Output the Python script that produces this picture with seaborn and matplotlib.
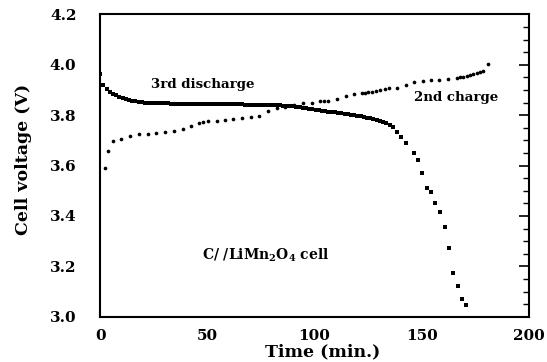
import numpy as np
import pandas as pd
import matplotlib
matplotlib.use("Agg")
import matplotlib.pyplot as plt
import seaborn as sns

# ---- data ----
discharge_time = [0, 1.5, 3, 4.5, 6, 7.5, 9, 10.5, 12, 13.5, 15, 16.5, 18, 19.5,
                  21, 22.5, 24, 25.5, 27, 28.5, 30, 31.5, 33, 34.5, 36, 37.5, 39, 40.5,
                  42, 43.5, 45, 46.5, 48, 49.5, 51, 52.5, 54, 55.5, 57, 58.5, 60, 61.5,
                  63, 64.5, 66, 67.5, 69, 70.5, 72, 73.5, 75, 76.5, 78, 79.5, 81, 82.5,
                  84, 85.5, 87, 88.5, 90, 91.5, 93, 94.5, 96, 97.5, 99, 100.5, 102, 103.5,
                  105, 106.5, 108, 109.5, 111, 112.5, 114, 115.5, 117, 118.5, 120, 121.5,
                  123, 124.5, 126, 127.5, 129, 130.5, 132, 133.5, 135, 136.5, 138.5, 140.3,
                  142.6, 146.3, 148.3, 150.3, 152.4, 154.5, 156.3, 158.7, 160.7, 162.7,
                  164.7, 166.8, 168.8, 170.6]
discharge_volt = [3.965, 3.922, 3.903, 3.892, 3.885, 3.879, 3.873, 3.868, 3.865, 3.862,
                  3.858, 3.855, 3.853, 3.851, 3.850, 3.849, 3.849, 3.848, 3.848, 3.847,
                  3.847, 3.847, 3.846, 3.846, 3.846, 3.846, 3.845, 3.845, 3.845, 3.845,
                  3.845, 3.844, 3.844, 3.844, 3.844, 3.844, 3.844, 3.843, 3.843, 3.843,
                  3.843, 3.843, 3.843, 3.843, 3.843, 3.842, 3.842, 3.842, 3.842, 3.842,
                  3.842, 3.841, 3.841, 3.841, 3.840, 3.840, 3.839, 3.838, 3.837, 3.836,
                  3.835, 3.833, 3.831, 3.829, 3.827, 3.825, 3.823, 3.821, 3.820, 3.818,
                  3.816, 3.814, 3.813, 3.811, 3.809, 3.807, 3.805, 3.803, 3.801, 3.799,
                  3.797, 3.795, 3.793, 3.791, 3.789, 3.786, 3.783, 3.779, 3.775, 3.770,
                  3.763, 3.754, 3.733, 3.715, 3.690, 3.651, 3.622, 3.571, 3.512, 3.494,
                  3.452, 3.415, 3.356, 3.273, 3.172, 3.123, 3.071, 3.046]

charge_time = [2.3, 3.9, 5.9, 9.9, 14.0, 18.1, 22.2, 26.3, 30.4, 34.5, 38.5, 42.4, 46.3,
               48.2, 50.2, 54.4, 58.3, 62.2, 66.3, 70.4, 74.3, 78.5, 82.4, 86.2, 90.6,
               94.8, 98.7, 102.6, 104.3, 106.2, 110.6, 114.5, 118.4, 122.0, 123.5, 125.0,
               126.6, 128.5, 130.5, 133.0, 134.7, 138.6, 142.7, 146.5, 150.4, 154.3, 158.2,
               162.4, 166.3, 167.8, 169.4, 170.9, 172.5, 174.0, 175.6, 177.2, 178.7, 180.7]
charge_volt = [3.589, 3.659, 3.697, 3.706, 3.716, 3.725, 3.726, 3.729, 3.734, 3.738,
               3.746, 3.756, 3.770, 3.774, 3.777, 3.778, 3.780, 3.786, 3.788, 3.792,
               3.796, 3.815, 3.827, 3.831, 3.840, 3.847, 3.849, 3.856, 3.856, 3.856,
               3.865, 3.877, 3.883, 3.888, 3.889, 3.891, 3.893, 3.896, 3.900, 3.906,
               3.907, 3.910, 3.922, 3.930, 3.936, 3.938, 3.939, 3.942, 3.948, 3.950,
               3.952, 3.956, 3.959, 3.962, 3.966, 3.970, 3.976, 4.003]

x_ticks = [0, 50, 100, 150, 200]
y_ticks = [3.0, 3.2, 3.4, 3.6, 3.8, 4.0, 4.2]

df_dis = pd.DataFrame({"Time": discharge_time, "Voltage": discharge_volt})
df_chg = pd.DataFrame({"Time": charge_time, "Voltage": charge_volt})

sns.set_theme(style="white")
plt.rcParams["font.family"] = ["DejaVu Serif"]
plt.rcParams["font.weight"] = "bold"
plt.rcParams["mathtext.fontset"] = "dejavuserif"
plt.rcParams["mathtext.default"] = "bf"
plt.rcParams["text.color"] = "black"
plt.rcParams["axes.labelcolor"] = "black"
plt.rcParams["xtick.color"] = "black"
plt.rcParams["ytick.color"] = "black"

fig = plt.figure(figsize=(5.47, 3.62), dpi=100)
ax = fig.add_axes([0.183, 0.125, 0.784, 0.835])

sns.scatterplot(data=df_dis, x="Time", y="Voltage", marker="s", s=7, color="black",
                edgecolor="black", linewidth=0, ax=ax)
sns.scatterplot(data=df_chg, x="Time", y="Voltage", marker="o", s=7, color="black",
                edgecolor="black", linewidth=0, ax=ax)

ax.set_xlim(0, 200)
ax.set_ylim(3.0, 4.2)
ax.set_xticks(x_ticks)
ax.set_yticks(y_ticks)
ax.set_xticklabels([str(v) for v in x_ticks], fontsize=11, fontweight="bold")
ax.set_yticklabels([f"{v:.1f}" for v in y_ticks], fontsize=11, fontweight="bold")
ax.set_xticks(np.arange(0, 201, 10), minor=True)
ax.set_yticks(np.arange(3.0, 4.21, 0.05), minor=True)
ax.tick_params(which="major", direction="in", length=7, width=1.2, right=True,
               top=False, colors="black")
ax.tick_params(which="minor", direction="in", length=4, width=1.0, right=True,
               top=False, colors="black")
ax.tick_params(axis="x", which="major", pad=9)
ax.tick_params(axis="y", which="major", pad=17)
for sp in ax.spines.values():
    sp.set_color("black")
    sp.set_linewidth(1.5)

ax.set_xlabel("Time (min.)", fontsize=12.5, fontweight="bold")
ax.set_ylabel("Cell voltage (V)", fontsize=12.5, fontweight="bold")
ax.xaxis.set_label_coords(0.52, -0.088)
ax.yaxis.set_label_coords(-0.158, 0.52)

ax.text(48, 3.923, "3rd discharge", fontsize=9.6, fontweight="bold",
        ha="center", va="center")
ax.text(166.2, 3.872, "2nd charge", fontsize=9.6, fontweight="bold",
        ha="center", va="center")
ax.text(77.4, 3.242, "C/ /LiMn$_2$O$_4$ cell", fontsize=10, fontweight="bold",
        ha="center", va="center")

fig.savefig("out.png", dpi=100)
